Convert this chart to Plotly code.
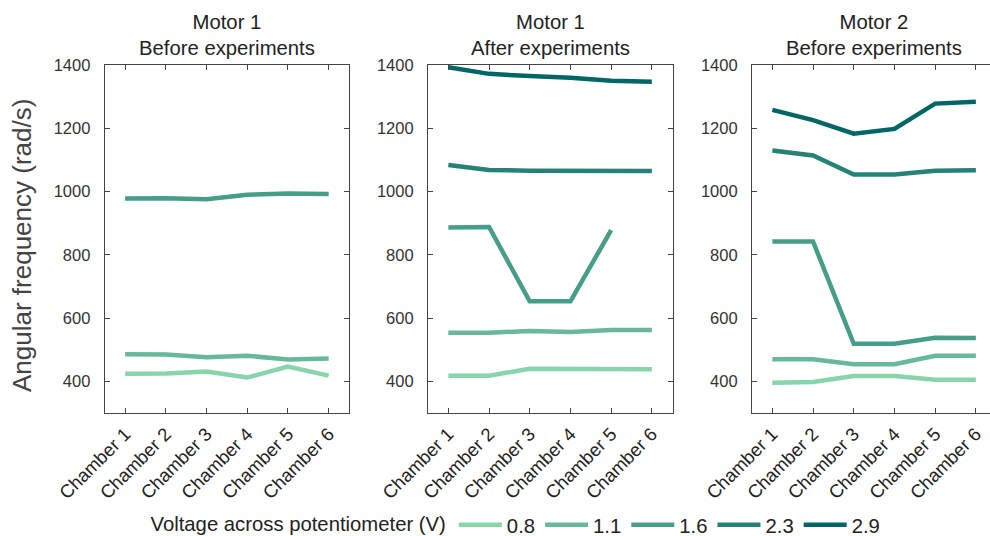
import plotly.graph_objects as go

chambers = ["Chamber 1", "Chamber 2", "Chamber 3", "Chamber 4", "Chamber 5", "Chamber 6"]
voltages = ["0.8", "1.1", "1.6", "2.3", "2.9"]
colors = ["#88d4ab", "#67b99a", "#469d89", "#248277", "#036666"]
panel_titles = ["Motor 1<br>Before experiments", "Motor 1<br>After experiments", "Motor 2<br>Before experiments"]

# Motor 1, before experiments
m1_before_08 = [424, 425, 431, 412, 447, 418]
m1_before_11 = [486, 485, 476, 481, 469, 472]
m1_before_16 = [978, 979, 976, 990, 994, 992]

# Motor 1, after experiments
m1_after_08 = [418, 418, 440, 440, 438, 438]
m1_after_11 = [554, 554, 559, 556, 562, 562]
m1_after_16 = [886, 888, 653, 653, 878, None]
m1_after_23 = [1084, 1068, 1066, 1066, 1067, 1065]
m1_after_29 = [1393, 1372, 1365, 1360, 1350, 1347]

# Motor 2, before experiments
m2_before_08 = [396, 398, 417, 417, 405, 405]
m2_before_11 = [470, 470, 454, 454, 481, 481]
m2_before_16 = [842, 842, 519, 519, 538, 537]
m2_before_23 = [1130, 1114, 1054, 1054, 1066, 1067]
m2_before_29 = [1258, 1226, 1183, 1198, 1278, 1284]

panels = [
    {"0.8": m1_before_08, "1.1": m1_before_11, "1.6": m1_before_16},
    {"0.8": m1_after_08, "1.1": m1_after_11, "1.6": m1_after_16, "2.3": m1_after_23, "2.9": m1_after_29},
    {"0.8": m2_before_08, "1.1": m2_before_11, "1.6": m2_before_16, "2.3": m2_before_23, "2.9": m2_before_29},
]

W, H = 990, 536
T, B = 65, 123
domains_px = [(104.8, 349), (428, 673), (752, 990)]
spacing = 40.7

fig = go.Figure()
shown = set()
for pi, pdata in enumerate(panels):
    xa = "x" if pi == 0 else f"x{pi+1}"
    ya = "y" if pi == 0 else f"y{pi+1}"
    for v, c in zip(voltages, colors):
        if v not in pdata:
            continue
        fig.add_trace(go.Scatter(
            x=chambers, y=pdata[v], mode="lines", name=v,
            line=dict(color=c, width=4.5), xaxis=xa, yaxis=ya,
            legendgroup=v, showlegend=(v not in shown), connectgaps=False,
        ))
        shown.add(v)

layout = dict(
    width=W, height=H,
    margin=dict(l=0, r=0, t=T, b=B, autoexpand=False),
    plot_bgcolor="white", paper_bgcolor="white",
    font=dict(family="Liberation Sans, Arial, sans-serif", color="#222"),
    showlegend=True,
    legend=dict(
        orientation="h", x=0.150, xanchor="left", y=-0.322, yanchor="middle",
        title=dict(text="Voltage across potentiometer (V)", side="left", font=dict(size=20.3, color="#222")),
        font=dict(size=20.3, color="#222"), traceorder="normal", itemwidth=43,
    ),
)

axcommon = dict(showline=True, linecolor="#444", linewidth=1.2, ticks="inside",
                tickcolor="#444", ticklen=5, showgrid=False, zeroline=False, automargin=False)

for pi, (l, r) in enumerate(domains_px):
    xk = "xaxis" if pi == 0 else f"xaxis{pi+1}"
    yk = "yaxis" if pi == 0 else f"yaxis{pi+1}"
    xr_hi = -0.5 + (r - l) / spacing
    layout[xk] = dict(
        domain=[l / W, min(r / W, 1.0)], anchor="y" if pi == 0 else f"y{pi+1}",
        type="category", categoryorder="array", categoryarray=chambers,
        range=[-0.5, xr_hi], tickangle=-45, mirror="ticks",
        tickfont=dict(size=18.5, color="#222"), ticklabelstandoff=2, **axcommon,
    )
    layout[yk] = dict(
        domain=[0, 1], anchor="x" if pi == 0 else f"x{pi+1}",
        range=[300, 1400], tickvals=[400, 600, 800, 1000, 1200, 1400],
        mirror=("ticks" if pi < 2 else False),
        tickfont=dict(size=16.5, color="#333"), ticklabelstandoff=10, **axcommon,
    )

plot_h = H - T - B
annotations = []
title_centers = [(104.8 + 349) / 2, (428 + 673) / 2, (752 + 752 + 6 * spacing) / 2]
for t, cx in zip(panel_titles, title_centers):
    annotations.append(dict(
        text=t, x=cx / W, xref="paper", xanchor="center", y=1, yref="paper", yanchor="bottom",
        yshift=4, showarrow=False, font=dict(size=20.3, color="#222"), align="center",
    ))
annotations.append(dict(
    text="Angular frequency (rad/s)", textangle=-90, x=22 / W, xref="paper", xanchor="center",
    y=(H - B - 246) / plot_h, yref="paper", yanchor="middle", showarrow=False,
    font=dict(size=26, color="#444"),
))
layout["annotations"] = annotations

fig.update_layout(**layout)
fig.write_html("out.html")
